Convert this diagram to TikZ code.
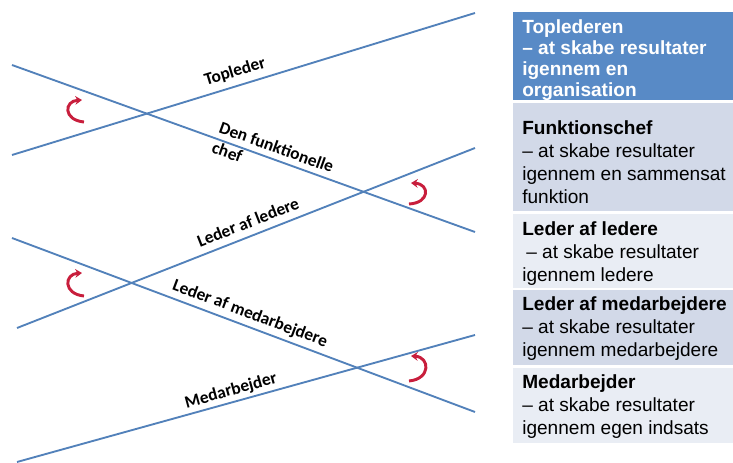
\documentclass[tikz,border=0pt]{standalone}
\usepackage{fontspec}
\setmainfont{Liberation Sans}
\newfontfamily\calib{Carlito}
\usetikzlibrary{arrows.meta}

\definecolor{lineblue}{RGB}{82,129,186}
\definecolor{turnred}{RGB}{200,30,60}
\definecolor{headblue}{RGB}{88,138,198}
\definecolor{banddark}{RGB}{210,217,232}
\definecolor{bandlight}{RGB}{233,237,244}

\begin{document}
\begin{tikzpicture}[x=0.75pt,y=0.75pt,yscale=-1,xscale=1,
  level/.style={draw=lineblue, line width=1.4pt},
  lvllabel/.style={font=\calib\bfseries\fontsize{13}{16}\selectfont, inner sep=0.75pt, align=left},
  turn/.style={draw=turnred, line width=2.2pt, -{Stealth[length=5pt,width=6.5pt]}},
  cell/.style={anchor=west, align=left, inner sep=0pt, font=\fontsize{14.3}{17.25}\selectfont},
]
\useasboundingbox (0,0) rectangle (733,463);

%Line ends
\coordinate (topA) at (12,155);  \coordinate (topB) at (475,13);
\coordinate (funA) at (12,65);   \coordinate (funB) at (475,232);
\coordinate (ledA) at (17,328);  \coordinate (ledB) at (475,148);
\coordinate (mdlA) at (12,238);  \coordinate (mdlB) at (475,412);
\coordinate (medA) at (17,462);  \coordinate (medB) at (475,335);

%Straight Lines
\draw [level] (topA) -- (topB) ;
\draw [level] (funA) -- (funB) ;
\draw [level] (ledA) -- (ledB) ;
\draw [level] (mdlA) -- (mdlB) ;
\draw [level] (medA) -- (medB) ;

% Text Node
\node [lvllabel, rotate=17] (lblTop) at (235,72) {Topleder};
% Text Node
\node [lvllabel, rotate=-19.8] (lblFun) at (273,157) {Den funktionelle\\chef};
% Text Node
\node [lvllabel, rotate=21.5] (lblLed) at (248,222) {Leder af ledere};
% Text Node
\node [lvllabel, rotate=-20.6] (lblMdl) at (250,314) {Leder af medarbejdere};
% Text Node
\node [lvllabel, rotate=15.5] (lblMed) at (231,391) {Medarbejder};

%Curved arrows
\draw [turn] (84,122) .. controls (63,120) and (64,101) .. (82,100) ;
\draw [turn] (409,204) .. controls (430,203) and (430,184) .. (411,183) ;
\draw [turn] (84,296) .. controls (63,294) and (64,274) .. (82,273) ;
\draw [turn] (409,381) .. controls (431,379) and (430,357) .. (411,356) ;

%Shape: Rectangles
\fill [headblue]  (513,12) rectangle (733,100) ;
\fill [banddark]  (513,103) rectangle (733,211) ;
\fill [bandlight] (513,214) rectangle (733,288) ;
\fill [banddark]  (513,290) rectangle (733,365) ;
\fill [bandlight] (513,368) rectangle (733,443) ;

% Text Node
\node [cell, text=white, font=\fontsize{14.3}{15.75}\selectfont\bfseries] (toplederen) at (522,60)
  {Toplederen\\– at skabe resultater\\igennem en\\organisation};
% Text Node
\node [cell] (funktionschef) at (522,162)
  {\textbf{Funktionschef}\\– at skabe resultater\\igennem en sammensat\\funktion};
% Text Node
\node [cell] (lederled) at (522,253.5)
  {\textbf{Leder af ledere}\\\hspace{3pt}– at skabe resultater\\igennem ledere};
% Text Node
\node [cell] (ledermed) at (522,329)
  {\textbf{Leder af medarbejdere}\\– at skabe resultater\\igennem medarbejdere};
% Text Node
\node [cell] (medarbejder) at (522,407)
  {\textbf{Medarbejder}\\– at skabe resultater\\igennem egen indsats};

\end{tikzpicture}
\end{document}
